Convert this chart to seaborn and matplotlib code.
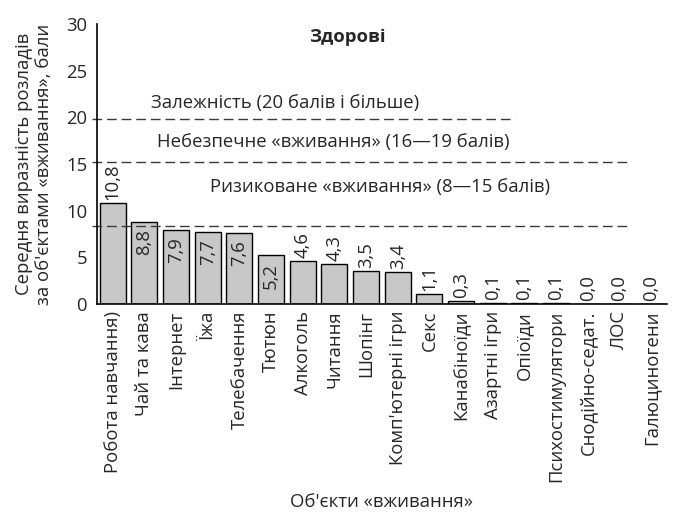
import matplotlib
matplotlib.use('Agg')
import matplotlib.pyplot as plt
import seaborn as sns
import pandas as pd
import numpy as np

# data
categories = ['Робота навчання)', 'Чай та кава', 'Інтернет', 'Їжа', 'Телебачення',
              'Тютюн', 'Алкоголь', 'Читання', 'Шопінг', "Комп'ютерні ігри", 'Секс',
              'Канабіноїди', 'Азартні ігри', 'Опіоїди', 'Психостимулятори',
              'Снодійно-седат.', 'ЛОС', 'Галюциногени']
values = [10.8, 8.8, 7.9, 7.7, 7.6, 5.2, 4.6, 4.3, 3.5, 3.4, 1.1, 0.3, 0.1, 0.1, 0.1, 0.0, 0.0, 0.0]

zone_levels = [19.8, 15.2, 8.3]
zone_texts = ['Залежність (20 балів і більше)',
              'Небезпечне «вживання» (16—19 балів)',
              'Ризиковане «вживання» (8—15 балів)']

df = pd.DataFrame({'obj': categories, 'score': values})

sns.set_style('white')
plt.rcParams['font.family'] = ['Open Sans', 'DejaVu Sans']
fs = 13.3
plt.rcParams['font.size'] = fs

fig = plt.figure(figsize=(6.73, 5.16), dpi=100)
ax = fig.add_axes([0.144, 0.411, 0.847, 0.5425])

sns.barplot(data=df, x='obj', y='score', color='#c8c8c8', edgecolor='black',
            linewidth=1, width=0.82, saturation=1, ax=ax)

ax.set_xlim(-0.5, len(categories) - 0.5)
ax.set_ylim(0, 30)
ax.set_yticks(range(0, 31, 5))

# dashed zone boundaries
dash = (0, (7, 3.5))
ax.plot([-0.65, 12.7], [zone_levels[0]] * 2, ls=dash, color='#3a3a3a', lw=1, clip_on=False)
ax.plot([-0.65, 16.3], [zone_levels[1]] * 2, ls=dash, color='#3a3a3a', lw=1, clip_on=False)
ax.plot([-0.65, 16.3], [zone_levels[2]] * 2, ls=dash, color='#3a3a3a', lw=1, clip_on=False)

ax.text(5.45, 21.5, zone_texts[0], ha='center', va='center', fontsize=fs)
ax.text(6.95, 17.4, zone_texts[1], ha='center', va='center', fontsize=fs)
ax.text(8.45, 12.5, zone_texts[2], ha='center', va='center', fontsize=fs)
ax.text(7.4, 28.6, 'Здорові', ha='center', va='center', fontsize=fs, fontweight='bold')

# value labels: inside the bar for the mid-sized ones, above otherwise
for i, v in enumerate(values):
    lab = f'{v:.1f}'.replace('.', ',')
    if 5 <= v < 10:
        ax.text(i, v - 0.8, lab, rotation=90, ha='center', va='top', fontsize=fs)
    else:
        ax.text(i, v + 0.3, lab, rotation=90, ha='center', va='bottom', fontsize=fs)

ax.set_xticks(range(len(categories)))
ax.set_xticklabels(categories, rotation=90)
ax.set_xticks(np.arange(-0.5, len(categories), 1), minor=True)
ax.tick_params(axis='x', which='major', length=0, pad=5)
ax.tick_params(axis='x', which='minor', length=5, width=1, direction='out', color='black')
ax.tick_params(axis='y', length=6, width=1, direction='out', color='black', pad=1)

for s in ['top', 'right']:
    ax.spines[s].set_visible(False)
for s in ['left', 'bottom']:
    ax.spines[s].set_color('black')
    ax.spines[s].set_linewidth(1.2)

ax.set_xlabel('Об\'єкти «вживання»', fontsize=fs, labelpad=8)
ax.set_ylabel('Середня виразність розладів\nза об\'єктами «вживання», бали', fontsize=fs,
              labelpad=9, linespacing=1.2)

fig.savefig('out.png', dpi=100)
